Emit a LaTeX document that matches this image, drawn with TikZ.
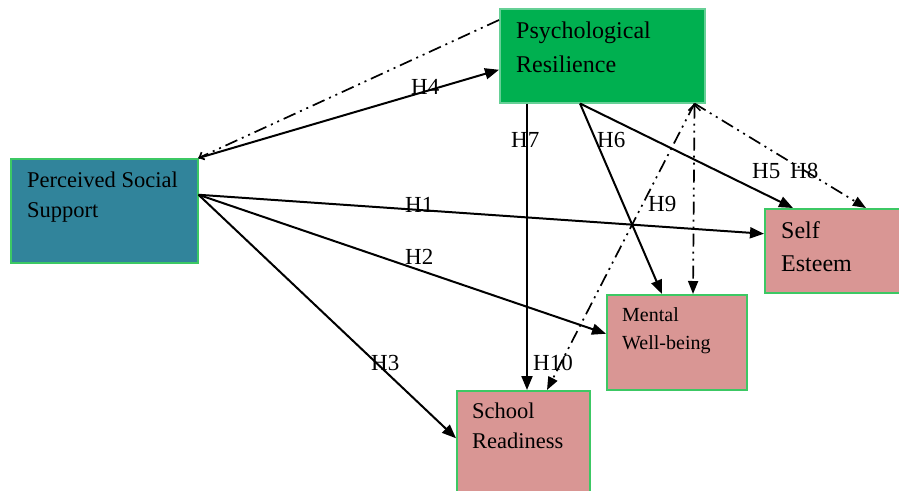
\documentclass[tikz,border=0pt]{standalone}
\usepackage{fontspec}
\setmainfont{Liberation Serif}
\usetikzlibrary{arrows.meta}
\definecolor{pssblue}{HTML}{31849B}
\definecolor{prgreen}{HTML}{00B050}
\definecolor{outpink}{HTML}{D99694}
\definecolor{edgegreen}{HTML}{3CC864}
\tikzset{
  box/.style={draw=edgegreen, line width=1.5pt, anchor=north west, inner sep=0pt},
  txt/.style={anchor=base west, inner sep=0pt, font=\fontsize{22.5}{27}\selectfont},
  txtbig/.style={anchor=base west, inner sep=0pt, font=\fontsize{24}{28}\selectfont},
  txtsmall/.style={anchor=base west, inner sep=0pt, font=\fontsize{20}{24}\selectfont},
  hlab/.style={anchor=base west, inner sep=0pt, font=\fontsize{23}{27}\selectfont},
  conn/.style={line width=2pt, -{Triangle[length=14pt,width=11pt]}},
  ddot/.style={line width=1.7pt, dash pattern=on 13pt off 5pt on 2pt off 5pt on 2pt off 5pt},
  ddarrow/.style={ddot, -{Triangle[length=13pt,width=10pt]}},
}
\begin{document}
\begin{tikzpicture}[x=1pt,y=-1pt]
\useasboundingbox (0,0) rectangle (899,490);
% boxes
\node[box, fill=pssblue, minimum width=187pt, minimum height=104pt] (pss) at (10,158) {};
\node[box, fill=prgreen, draw=prgreen!60!white, minimum width=205pt, minimum height=94pt] (pr) at (499,8) {};
\node[box, fill=outpink, minimum width=137pt, minimum height=84pt] (se) at (764,208) {};
\node[box, fill=outpink, minimum width=140pt, minimum height=95pt] (mwb) at (606,294) {};
\node[box, fill=outpink, minimum width=133pt, minimum height=101pt] (sr) at (456,390) {};
% helper coordinates on box edges
\coordinate (pssout) at ([yshift=16pt]pss.east);
\coordinate (prdot) at ([xshift=-11pt]pr.south east);
% solid paths
\draw[conn] (pss.north east) -- ([yshift=-14pt]pr.west);
\draw[conn] (pssout) -- ([yshift=17pt]se.west);
\draw[conn] (pssout) -- ([yshift=8.5pt]mwb.west);
\draw[conn] (pssout) -- ([yshift=3pt]sr.west);
\draw[conn] ([xshift=28pt]pr.south west) -- ([xshift=71pt]sr.north west);
\draw[conn] ([xshift=81pt]pr.south west) -- ([xshift=56pt]mwb.north west);
\draw[conn] ([xshift=81pt]pr.south west) -- ([xshift=29pt]se.north west);
% dash-dot-dot paths
\draw[ddot, -{Straight Barb[length=4pt,width=8pt]}] ([yshift=-12pt]pr.north west) -- (pss.north east);
\draw[ddarrow] (prdot) -- ([xshift=102pt]se.north west);
\draw[ddot, {Straight Barb[length=6pt,width=12pt]}-{Triangle[length=13pt,width=10pt]}] (prdot) -- ([xshift=87pt]mwb.north west);
\draw[ddarrow] (prdot) -- ([xshift=91pt]sr.north west);
% box texts
\node[txt] (pss1) at (27,187) {Perceived Social};
\node[txt] (pss2) at (27,217) {Support};
\node[txtbig] (pr1) at (516,38) {Psychological};
\node[txtbig] (pr2) at (516,72) {Resilience};
\node[txtbig] (se1) at (781,238) {Self};
\node[txtbig] (se2) at (781,271) {Esteem};
\node[txtsmall] (mwb1) at (622,321) {Mental};
\node[txtsmall] (mwb2) at (622,349) {Well-being};
\node[txt] (sr1) at (472,418) {School};
\node[txt] (sr2) at (472,448) {Readiness};
% hypothesis labels
\node[hlab] (h4) at (411,94) {H4};
\node[hlab] (h1) at (405,212) {H1};
\node[hlab] (h2) at (405,264) {H2};
\node[hlab] (h3) at (371,370) {H3};
\node[hlab] (h7) at (511,147) {H7};
\node[hlab] (h6) at (597,147) {H6};
\node[hlab] (h5) at (752,178) {H5};
\node[hlab] (h8) at (790,178) {H8};
\node[hlab] (h9) at (648,211) {H9};
\node[hlab] (h10) at (533,370) {H10};
\end{tikzpicture}
\end{document}
